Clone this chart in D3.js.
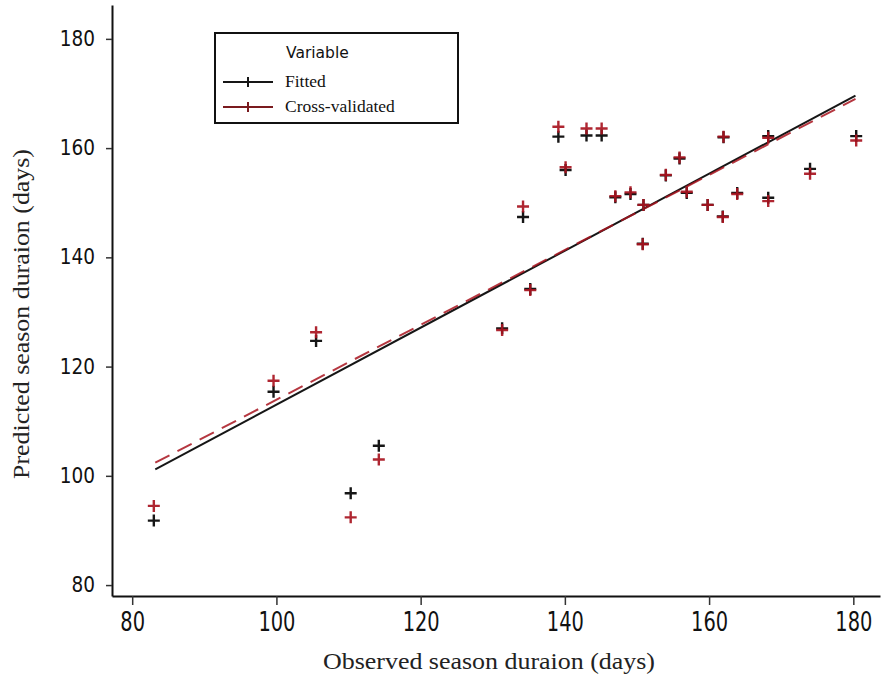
<!DOCTYPE html><meta charset="utf-8"><style>
    body { margin: 0; background: #fff; }
    .tick text { fill: #111; }
    .axis-title { font-family: "Liberation Serif", "DejaVu Serif", serif; fill: #222; }
</style><svg width="888" height="676"></svg><script src="https://cdn.jsdelivr.net/npm/d3@7"></script><script>

    var width = 888, height = 676;

    // values
    var observed = [83.0, 99.6, 105.5, 110.3, 114.2, 131.3, 134.2, 135.2, 139.1, 140.1, 143.0, 145.1, 147.0, 149.1,
        150.9, 150.8, 154.0, 155.9, 156.9, 159.8, 161.9, 162.0, 163.9, 168.2, 168.2, 174.0, 180.4];
    var fitted = [91.8, 115.4, 124.7, 96.8, 105.5, 127.0, 147.4, 134.2, 162.1, 156.0, 162.3, 162.3, 151.0, 151.6,
        149.6, 142.5, 155.0, 158.1, 151.8, 149.6, 147.5, 162.0, 151.8, 162.2, 150.9, 156.2, 162.2];
    var crossValidated = [94.5, 117.4, 126.3, 92.4, 103.0, 126.7, 149.3, 134.0, 163.9, 156.5, 163.6, 163.6, 151.2, 151.9,
        149.6, 142.4, 155.1, 158.3, 152.0, 149.6, 147.4, 162.1, 151.6, 161.9, 150.3, 155.3, 161.4];

    // fit lines, end points
    var fitLine = [[83.2, 101.2], [180.3, 169.6]];
    var cvLine = [[83.2, 102.4], [180.3, 169.0]];

    var xTicks = [80, 100, 120, 140, 160, 180];
    var yTicks = [80, 100, 120, 140, 160, 180];

    var black = "#161616", red = "#a8141f";

    var x = d3.scaleLinear().domain([77.2, 183.7]).range([112, 880]);
    var y = d3.scaleLinear().domain([78.0, 186.2]).range([596, 5]);

    const svg = d3.select("svg")
        .attr("viewBox", [0, 0, width, height]);

    // axes
    svg.append("g")
        .attr("transform", "translate(0,596)")
        .call(d3.axisBottom(x).tickValues(xTicks).tickSize(9).tickSizeOuter(0).tickPadding(8))
        .call(g => g.select(".domain").attr("stroke", "#111").attr("stroke-width", 2))
        .call(g => g.selectAll(".tick line").attr("stroke", "#333").attr("stroke-width", 1.5))
        .call(g => g.selectAll(".tick text")
            .attr("font-family", "'DejaVu Sans Condensed', 'DejaVu Sans', sans-serif")
            .attr("font-size", 26)
            .attr("transform", "scale(0.83,1)"));

    svg.append("g")
        .attr("transform", "translate(112,0)")
        .call(d3.axisLeft(y).tickValues(yTicks).tickSize(6).tickSizeOuter(0).tickPadding(11))
        .call(g => g.select(".domain").attr("stroke", "#111").attr("stroke-width", 2))
        .call(g => g.selectAll(".tick line").attr("stroke", "#333").attr("stroke-width", 1.5))
        .call(g => g.selectAll(".tick text")
            .attr("font-family", "'DejaVu Sans Condensed', 'DejaVu Sans', sans-serif")
            .attr("font-size", 20.5));

    // axis titles
    svg.append("text")
        .attr("class", "axis-title")
        .attr("x", 489).attr("y", 669)
        .attr("text-anchor", "middle")
        .attr("font-size", 23)
        .attr("textLength", 332)
        .attr("lengthAdjust", "spacingAndGlyphs")
        .text("Observed season duraion (days)");

    svg.append("text")
        .attr("class", "axis-title")
        .attr("transform", "translate(29,314) rotate(-90)")
        .attr("text-anchor", "middle")
        .attr("font-size", 23)
        .attr("textLength", 330)
        .attr("lengthAdjust", "spacingAndGlyphs")
        .text("Predicted season duraion (days)");

    // fit lines
    var line = d3.line().x(d => x(d[0])).y(d => y(d[1]));

    svg.append("path")
        .datum(fitLine)
        .attr("d", line)
        .attr("fill", "none")
        .attr("stroke", black)
        .attr("stroke-width", 2);

    svg.append("path")
        .datum(cvLine)
        .attr("d", line)
        .attr("fill", "none")
        .attr("stroke", red)
        .attr("stroke-opacity", 0.85)
        .attr("stroke-width", 2)
        .attr("stroke-dasharray", "16,9");

    // crosses
    var cross = "M-6,0H6M0,-6V6";

    svg.append("g")
        .selectAll("path")
        .data(observed.map((o, i) => [o, fitted[i]]))
        .join("path")
        .attr("transform", d => `translate(${x(d[0])},${y(d[1])})`)
        .attr("d", cross)
        .attr("fill", "none")
        .attr("stroke", black)
        .attr("stroke-width", 2.4);

    svg.append("g")
        .selectAll("path")
        .data(observed.map((o, i) => [o, crossValidated[i]]))
        .join("path")
        .attr("transform", d => `translate(${x(d[0])},${y(d[1])})`)
        .attr("d", cross)
        .attr("fill", "none")
        .attr("stroke", red)
        .attr("stroke-opacity", 0.92)
        .attr("stroke-width", 2.4);

    // legend
    var legend = svg.append("g").attr("transform", "translate(215,33)");

    legend.append("rect")
        .attr("width", 243).attr("height", 90)
        .attr("fill", "#fff")
        .attr("stroke", "#111")
        .attr("stroke-width", 2);

    legend.append("text")
        .attr("x", 71).attr("y", 25)
        .attr("font-family", "'DejaVu Sans', sans-serif")
        .attr("font-size", 15.5)
        .attr("fill", "#111")
        .text("Variable");

    var items = [{name: "Fitted", color: black}, {name: "Cross-validated", color: "#7a1a1e"}];

    var row = legend.selectAll(".item")
        .data(items)
        .join("g")
        .attr("class", "item")
        .attr("transform", (d, i) => `translate(0,${49 + i * 25})`);

    row.append("line")
        .attr("x1", 8).attr("x2", 58)
        .attr("stroke", d => d.color)
        .attr("stroke-width", 2);

    row.append("path")
        .attr("transform", "translate(33,0)")
        .attr("d", "M0,-5V5")
        .attr("stroke", d => d.color)
        .attr("stroke-width", 2);

    row.append("text")
        .attr("x", 70).attr("y", 5)
        .attr("font-family", "'Liberation Serif', serif")
        .attr("font-size", 17.5)
        .attr("fill", "#111")
        .text(d => d.name);

</script>
